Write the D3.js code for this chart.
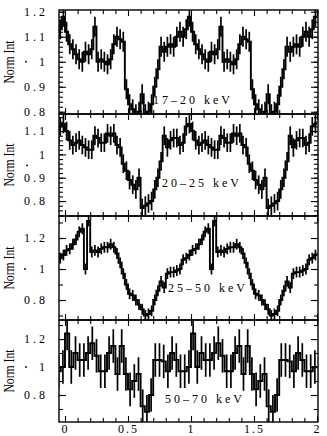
<!DOCTYPE html>
<html><head><meta charset="utf-8">
<script src="https://cdn.jsdelivr.net/npm/d3@7"></script>
<style>
body{margin:0;background:#fff}
svg{display:block}
text{font-family:"Liberation Serif","Times New Roman",serif;fill:#000}
</style></head><body>
<svg id="c" width="327" height="436"></svg>
<script>
// ---- data (one pulse cycle per band, folded and plotted over phase 0-2) ----
const phaseTicks = [0, 0.5, 1, 1.5, 2];
const bandLabels = ["17\u201320 keV", "20\u201325 keV", "25\u201350 keV", "50\u201370 keV"];

const rate1 = [1.12,1.07,1.05,1.03,1.01,1.00,1.04,1.03,1.05,1.14,
               1.00,1.01,1.00,0.99,1.01,1.07,1.10,1.09,1.08,0.89,
               0.83,0.81,0.79,0.80,0.87,0.79,0.80,0.83,0.90,0.97,
               1.06,1.04,1.06,1.07,1.06,1.10,1.12,1.10,1.13,1.18];
const rate2 = [1.10,1.06,1.04,1.05,1.06,1.04,1.03,1.02,1.02,1.08,
               1.07,1.05,1.05,1.09,1.08,1.09,1.04,1.03,0.96,0.93,
               0.89,0.87,0.85,0.90,0.77,0.78,0.79,0.80,0.85,0.90,
               0.97,1.08,1.03,1.06,1.07,1.07,1.04,1.05,1.12,1.13];
const rate3 = [1.12,1.13,1.16,1.19,1.24,1.26,1.00,1.31,1.11,1.12,
               1.11,1.13,1.14,1.14,1.16,1.14,1.10,1.04,0.97,0.90,
               0.84,0.83,0.80,0.77,0.74,0.70,0.71,0.73,0.80,0.86,
               0.92,0.88,0.97,0.98,0.98,0.99,1.00,1.06,1.07,1.09];
const rate4 = [1.24,1.00,1.10,1.05,1.05,1.10,1.17,1.08,0.97,0.97,
               1.10,1.15,0.95,1.15,0.95,0.84,0.90,0.95,0.72,0.68,
               0.80,1.05,1.05,1.04,0.97,1.10,1.05,0.97,0.97,1.00];
const errors = [0.04, 0.04, 0.035, 0.12];

const yTicks1 = [0.8, 0.9, 1, 1.1, 1.2];
const yTicks2 = [0.8, 0.9, 1, 1.1];
const yTicks3 = [0.8, 1, 1.2];
const yTicks4 = [0.8, 1, 1.2];

// ---- layout ----
const X0 = 59, X1 = 318;
const panels = [
  {rate: rate1, err: errors[0], ticks: yTicks1, dom: [0.791, 1.207], top: 10,  bot: 114, minor: 0.02, label: bandLabels[0], lx: 153, ly: 104, dot: [26, 0]},
  {rate: rate2, err: errors[1], ticks: yTicks2, dom: [0.736, 1.173], top: 114, bot: 216, minor: 0.02, label: bandLabels[1], lx: 162, ly: 187, dot: [27, 11]},
  {rate: rate3, err: errors[2], ticks: yTicks3, dom: [0.671, 1.342], top: 216, bot: 320, minor: 0.1,  label: bandLabels[2], lx: 168, ly: 292, dot: [25, 0]},
  {rate: rate4, err: errors[3], ticks: yTicks4, dom: [0.607, 1.336], top: 320, bot: 422, minor: 0.1,  label: bandLabels[3], lx: 165, ly: 403, dot: [26, 0]}
];

const svg = d3.select("#c");
const x = d3.scaleLinear().domain([0, 2]).range([65, 317]);
const xMinor = d3.range(0, 20.5, 1).map(d => d / 10);

function fmt(d){ return d === 1 ? "1" : d3.format(".1f")(d); }

panels.forEach((p, k) => {
  const g = svg.append("g");
  const y = d3.scaleLinear().domain(p.dom).range([p.bot, p.top]);
  const clipId = "clip" + k;
  svg.append("clipPath").attr("id", clipId).append("rect")
     .attr("x", X0).attr("y", p.top).attr("width", X1 - X0).attr("height", p.bot - p.top);

  // folded data: cycles from phase -1 to 2 (clipped to the frame)
  const vals = p.rate.concat(p.rate, p.rate);
  const m = p.rate.length;
  const ph = i => -1 + i / m;
  const pts = vals.map((v, i) => [ph(i), v]);
  pts.push([2, vals[vals.length - 1]]);
  const line = d3.line().x(d => x(d[0])).y(d => y(d[1])).curve(d3.curveStepAfter);
  const dg = g.append("g").attr("clip-path", `url(#${clipId})`);
  dg.append("path").attr("d", line(pts)).attr("fill", "none")
    .attr("stroke", "#000").attr("stroke-width", 1.9);
  dg.selectAll("line.e").data(vals).join("line").attr("class", "e")
    .attr("x1", (v, i) => x(ph(i + 0.5))).attr("x2", (v, i) => x(ph(i + 0.5)))
    .attr("y1", v => y(v - p.err)).attr("y2", v => y(v + p.err))
    .attr("stroke", "#000").attr("stroke-width", 1.7);

  // y ticks left & right (inward)
  const minorVals = d3.range(Math.ceil(p.dom[0] / p.minor - 1e-6), Math.floor(p.dom[1] / p.minor + 1e-6) + 1).map(i => +(i * p.minor).toFixed(3));
  const axL = d3.axisLeft(y).tickValues(minorVals).tickSize(-4).tickFormat("");
  const axR = d3.axisRight(y).tickValues(minorVals).tickSize(-4).tickFormat("");
  const axLM = d3.axisLeft(y).tickValues(p.ticks).tickSize(-7).tickPadding(11).tickFormat(fmt);
  const axRM = d3.axisRight(y).tickValues(p.ticks).tickSize(-7).tickFormat("");
  [axL, axLM].forEach(a => {
    const ga = g.append("g").attr("transform", `translate(${X0},0)`).call(a);
    ga.select(".domain").remove();
    ga.selectAll("line").attr("stroke-width", 1.1);
    ga.selectAll("text").attr("font-size", 12).style("letter-spacing", "3px");
  });
  [axR, axRM].forEach(a => {
    const ga = g.append("g").attr("transform", `translate(${X1},0)`).call(a);
    ga.select(".domain").remove();
    ga.selectAll("line").attr("stroke-width", 1.1);
  });

  // x ticks top & bottom (inward)
  const xmin = xMinor.filter(d => !phaseTicks.includes(d));
  const topMin = g.append("g").attr("transform", `translate(0,${p.top})`)
    .call(d3.axisTop(x).tickValues(xmin).tickSize(-4).tickFormat(""));
  const topMaj = g.append("g").attr("transform", `translate(0,${p.top})`)
    .call(d3.axisTop(x).tickValues(phaseTicks).tickSize(-6).tickFormat(""));
  const botMin = g.append("g").attr("transform", `translate(0,${p.bot})`)
    .call(d3.axisBottom(x).tickValues(xmin).tickSize(-4).tickFormat(""));
  const botMaj = g.append("g").attr("transform", `translate(0,${p.bot})`)
    .call(d3.axisBottom(x).tickValues(phaseTicks).tickSize(-6).tickPadding(2)
          .tickFormat(k === 3 ? d => String(d) : ""));
  [topMin, topMaj, botMin, botMaj].forEach(ga => {
    ga.select(".domain").remove();
    ga.selectAll("line").attr("stroke-width", 1.1);
    ga.selectAll("text").attr("font-size", 12).style("letter-spacing", "2px");
  });

  // frame
  g.append("rect").attr("x", X0).attr("y", p.top).attr("width", X1 - X0).attr("height", p.bot - p.top)
    .attr("fill", "none").attr("stroke", "#000").attr("stroke-width", 1.4);

  // stray dot near the "1" label (as in the original)
  g.append("circle").attr("cx", p.dot[0]).attr("cy", y(1) + p.dot[1]).attr("r", 0.9).attr("fill", "#000");

  // y title (tall, condensed)
  g.append("text")
    .attr("transform", `translate(14,${(p.top + p.bot) / 2}) rotate(-90) scale(0.78,1)`)
    .attr("text-anchor", "middle").attr("font-size", 15)
    .text("Norm Int");

  // band label
  g.append("text").attr("x", p.lx).attr("y", p.ly).attr("font-size", 12)
    .style("letter-spacing", "3px").text(p.label);
});
</script>
</body></html>
